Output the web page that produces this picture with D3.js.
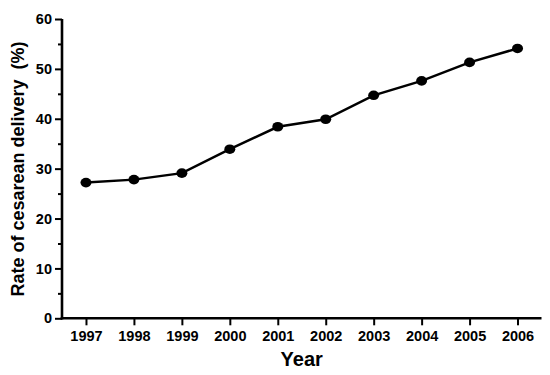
<!DOCTYPE html>
<html><head><meta charset="utf-8">
<script src="https://cdn.jsdelivr.net/npm/d3@7"></script>
<style>body{margin:0;background:#fff}svg{display:block}text{font-family:"Liberation Sans",Arial,sans-serif;font-weight:bold;fill:#000}</style>
</head><body>
<script>
const years = [1997,1998,1999,2000,2001,2002,2003,2004,2005,2006];
const rates = [27.2,27.8,29.1,33.9,38.4,39.9,44.7,47.6,51.3,54.1];
const yTicks = [0,10,20,30,40,50,60];
const yMinorTicks = [5,15,25,35,45,55];

const W=550,H=375;
const svg=d3.select("body").append("svg").attr("width",W).attr("height",H);
const x=d3.scaleLinear().domain([1996.5,2006.5]).range([62,541.5]);
const y=d3.scaleLinear().domain([0,60]).range([318.3,19]);

const gy=svg.append("g").attr("transform","translate(62,0)")
  .call(d3.axisLeft(y).tickValues(yTicks).tickSize(7).tickPadding(3).tickSizeOuter(0));
gy.select(".domain").attr("stroke-width",2.6).attr("d",`M0,${y(60)}V${y(0)+1.3}`);
gy.selectAll(".tick line").attr("stroke-width",2);
gy.selectAll(".tick text").style("font-size","14.5px");
const gym=svg.append("g").attr("transform","translate(62,0)")
  .call(d3.axisLeft(y).tickValues(yMinorTicks).tickSize(4).tickFormat(""));
gym.select(".domain").remove();
gym.selectAll(".tick line").attr("stroke-width",2);

const gx=svg.append("g").attr("transform",`translate(0,${y(0)})`)
  .call(d3.axisBottom(x).tickValues(years).tickFormat(d3.format("d")).tickSize(7).tickPadding(5).tickSizeOuter(0));
gx.select(".domain").attr("stroke-width",2.6).attr("d",`M${62-1.3},0H541.5`);
gx.selectAll(".tick line").attr("stroke-width",2);
gx.selectAll(".tick text").style("font-size","14.5px");

const data=years.map((d,i)=>({year:d,rate:rates[i]}));
svg.append("path").datum(data)
  .attr("fill","none").attr("stroke","#000").attr("stroke-width",2.5)
  .attr("d",d3.line().x(d=>x(d.year)).y(d=>y(d.rate)));
svg.selectAll("ellipse.pt").data(data).enter().append("ellipse").attr("class","pt")
  .attr("cx",d=>x(d.year)).attr("cy",d=>y(d.rate)).attr("rx",5.5).attr("ry",4.8).attr("fill","#000");

svg.append("text").attr("x",(62+541.5)/2).attr("y",366).attr("text-anchor","middle")
  .style("font-size","20px").text("Year");
svg.append("text").attr("transform",`translate(24,169) rotate(-90)`).attr("text-anchor","middle")
  .style("font-size","18px").attr("xml:space","preserve").style("white-space","pre").text("Rate of cesarean delivery  (%)");
</script>
</body></html>
